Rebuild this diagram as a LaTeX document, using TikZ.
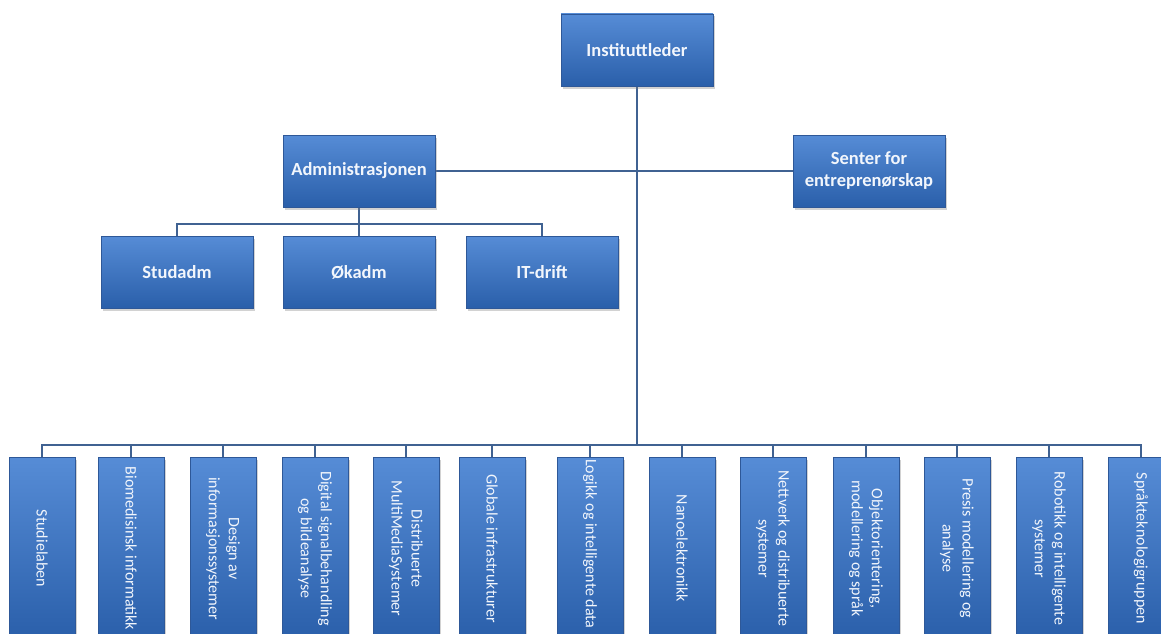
\documentclass[tikz,border=0pt]{standalone}
\usepackage{fontspec}
\setmainfont{Carlito}
\usetikzlibrary{shadows,backgrounds}

\definecolor{boxtop}{RGB}{86,140,214}
\definecolor{boxbot}{RGB}{42,95,170}
\definecolor{boxedge}{RGB}{46,88,152}
\definecolor{linkblue}{RGB}{64,98,146}
\definecolor{ink}{RGB}{242,246,252}

\tikzset{
  unit/.style={draw=boxedge, line width=0.8pt, top color=boxtop, bottom color=boxbot,
    drop shadow={shadow xshift=1.5pt, shadow yshift=-2.5pt, opacity=0.35}, inner sep=0pt},
  headbox/.style={unit, minimum width=152pt, minimum height=72pt,
    font=\fontsize{18.5}{22}\selectfont\bfseries, text=ink, align=center},
  groupbox/.style={unit, minimum width=66pt, minimum height=183pt},
  grouplabel/.style={rotate=-90, text=ink, align=center, inner sep=0pt,
    font=\fontsize{16}{20}\selectfont},
  link/.style={draw=linkblue, line width=2.6pt}
}

\begin{document}
\begin{tikzpicture}[x=1pt,y=-1pt]
\path[use as bounding box, clip] (0,0) rectangle (1161,634);

% management and administration
\node[headbox] (inst) at (637,50)  {Instituttleder};
\node[headbox] (adm)  at (359,171) {Administrasjonen};
\node[headbox] (sen)  at (869,171) {Senter for\\entreprenørskap};
\node[headbox] (stud) at (177,272) {Studadm};
\node[headbox] (okad) at (359,272) {Økadm};
\node[headbox] (itd)  at (542,272) {IT-drift};

\coordinate (abus) at (359,224);
\coordinate (gbus) at (637,445);

% research groups
\node[groupbox] (g1)  at (42,548.5)   {};
\node[groupbox] (g2)  at (131,548.5)  {};
\node[groupbox] (g3)  at (223,548.5)  {};
\node[groupbox] (g4)  at (315,548.5)  {};
\node[groupbox] (g5)  at (406,548.5)  {};
\node[groupbox] (g6)  at (492,548.5)  {};
\node[groupbox] (g7)  at (590,548.5)  {};
\node[groupbox] (g8)  at (682,548.5)  {};
\node[groupbox] (g9)  at (773,548.5)  {};
\node[groupbox] (g10) at (866,548.5)  {};
\node[groupbox] (g11) at (957,548.5)  {};
\node[groupbox] (g12) at (1049,548.5) {};
\node[groupbox] (g13) at (1141,548.5) {};

\node[grouplabel] (t1)  at (g1)  {Studielaben};
\node[grouplabel] (t2)  at (g2)  {Biomedisinsk informatikk};
\node[grouplabel] (t3)  at (g3)  {Design av\\informasjonssystemer};
\node[grouplabel] (t4)  at (g4)  {Digital signalbehandling\\og bildeanalyse};
\node[grouplabel] (t5)  at (g5)  {Distribuerte\\MultiMediaSystemer};
\node[grouplabel] (t6)  at (g6)  {Globale infrastrukturer};
\node[grouplabel, anchor=west] (t7) at (590,459) {Logikk og intelligente data};
\node[grouplabel] (t8)  at (g8)  {Nanoelektronikk};
\node[grouplabel] (t9)  at (g9)  {Nettverk og distribuerte\\systemer};
\node[grouplabel] (t10) at (g10) {Objektorientering,\\modellering og språk};
\node[grouplabel] (t11) at (g11) {Presis modellering og\\analyse};
\node[grouplabel] (t12) at (g12) {Robotikk og intelligente\\systemer};
\node[grouplabel] (t13) at (g13) {Språkteknologigruppen};

% connectors behind the boxes
\begin{pgfonlayer}{background}
\fill[white] (0,0) rectangle (1161,634);
\draw[link] (inst) -- (gbus);
\draw[link] (adm) -- (sen);
\draw[link] (adm) -- (okad);
\draw[link] (stud.north) |- (abus) -| (itd.north);
\draw[link] (g1.north) |- (gbus) -| (g13.north);
\foreach \i in {2,...,12} \draw[link] (g\i.north) -- (g\i.north |- gbus);
\end{pgfonlayer}
\end{tikzpicture}
\end{document}
